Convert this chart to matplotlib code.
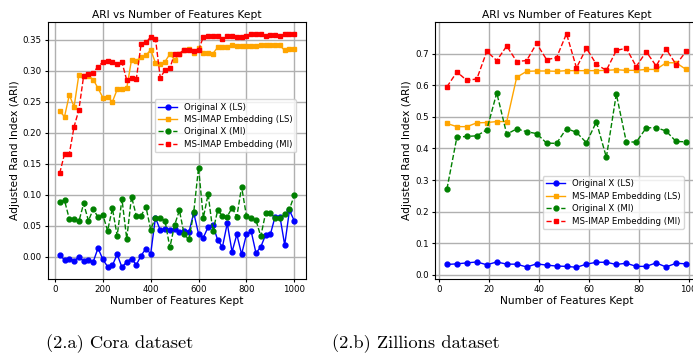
import matplotlib
matplotlib.use('Agg')
import matplotlib.pyplot as plt

# Cora dataset (left)
cora_k = list(range(20, 1001, 20))
cora_x_ls = [0.003, -0.005, -0.003, -0.007, 0.000, -0.007, -0.005, -0.008, 0.014, -0.004,
             -0.016, -0.014, 0.004, -0.017, -0.008, -0.003, -0.013, 0.002, 0.013, 0.005,
             0.063, 0.043, 0.045, 0.043, 0.045, 0.040, 0.041, 0.040, 0.071, 0.037,
             0.031, 0.048, 0.051, 0.027, 0.016, 0.054, 0.008, 0.036, 0.004, 0.036,
             0.041, 0.006, 0.016, 0.035, 0.036, 0.065, 0.065, 0.019, 0.075, 0.058]
cora_emb_ls = [0.235, 0.226, 0.261, 0.242, 0.294, 0.292, 0.292, 0.286, 0.272, 0.257,
               0.258, 0.250, 0.270, 0.270, 0.272, 0.318, 0.316, 0.323, 0.325, 0.334,
               0.313, 0.311, 0.315, 0.327, 0.318, 0.327, 0.334, 0.335, 0.329, 0.337,
               0.329, 0.329, 0.328, 0.338, 0.339, 0.338, 0.341, 0.340, 0.340, 0.340,
               0.340, 0.340, 0.342, 0.342, 0.342, 0.341, 0.341, 0.333, 0.335, 0.335]
cora_x_mi = [0.088, 0.091, 0.061, 0.061, 0.057, 0.086, 0.058, 0.077, 0.064, 0.068,
             0.042, 0.078, 0.034, 0.093, 0.029, 0.097, 0.066, 0.066, 0.081, 0.044,
             0.063, 0.063, 0.058, 0.015, 0.051, 0.075, 0.036, 0.028, 0.072, 0.144,
             0.063, 0.101, 0.041, 0.075, 0.066, 0.065, 0.079, 0.065, 0.113, 0.066,
             0.062, 0.059, 0.033, 0.070, 0.071, 0.062, 0.062, 0.069, 0.077, 0.099]
cora_emb_mi = [0.135, 0.166, 0.166, 0.210, 0.237, 0.292, 0.295, 0.297, 0.307, 0.314,
               0.316, 0.315, 0.311, 0.314, 0.285, 0.289, 0.287, 0.343, 0.347, 0.354,
               0.352, 0.289, 0.301, 0.304, 0.328, 0.328, 0.334, 0.333, 0.332, 0.333,
               0.355, 0.357, 0.356, 0.357, 0.351, 0.356, 0.357, 0.355, 0.354, 0.357,
               0.360, 0.360, 0.359, 0.357, 0.358, 0.358, 0.356, 0.359, 0.359, 0.359]

# Zillions dataset (right)
zil_k = list(range(3, 100, 4))
zil_x_ls = [0.033, 0.035, 0.038, 0.041, 0.032, 0.041, 0.034, 0.034, 0.025, 0.035,
            0.031, 0.028, 0.027, 0.024, 0.034, 0.040, 0.040, 0.033, 0.037, 0.027,
            0.027, 0.038, 0.025, 0.037, 0.035]
zil_emb_ls = [0.479, 0.469, 0.469, 0.481, 0.482, 0.485, 0.485, 0.625, 0.644, 0.645,
              0.645, 0.644, 0.646, 0.646, 0.646, 0.646, 0.647, 0.649, 0.647, 0.647,
              0.650, 0.650, 0.671, 0.671, 0.650]
zil_x_mi = [0.272, 0.436, 0.438, 0.440, 0.459, 0.576, 0.445, 0.462, 0.453, 0.447,
            0.417, 0.416, 0.463, 0.451, 0.418, 0.484, 0.372, 0.572, 0.421, 0.420,
            0.465, 0.466, 0.455, 0.422, 0.421]
zil_emb_mi = [0.595, 0.642, 0.615, 0.620, 0.707, 0.678, 0.724, 0.675, 0.678, 0.732,
              0.681, 0.687, 0.763, 0.655, 0.717, 0.666, 0.647, 0.710, 0.717, 0.659,
              0.706, 0.661, 0.715, 0.665, 0.707]

labels = ['Original X (LS)', 'MS-IMAP Embedding (LS)', 'Original X (MI)', 'MS-IMAP Embedding (MI)']
captions = ['(2.a) Cora dataset', '(2.b) Zillions dataset']

W, H = 693, 354
fig = plt.figure(figsize=(W / 100, H / 100), dpi=100)
ax1 = fig.add_axes([48 / W, 75 / H, 258 / W, 257 / H])
ax2 = fig.add_axes([435 / W, 75 / H, 263 / W, 257 / H])


def draw(ax, k, a, b, c, d, anchor):
    ax.plot(k, a, color='blue', marker='o', ms=3.5, lw=1, label=labels[0])
    ax.plot(k, b, color='orange', marker='s', ms=3.5, lw=1, label=labels[1])
    ax.plot(k, c, color='green', marker='o', ms=3.5, lw=1, ls='--', label=labels[2])
    ax.plot(k, d, color='red', marker='s', ms=3.5, lw=1, ls='--', label=labels[3])
    ax.set_title('ARI vs Number of Features Kept', fontsize=7.7, pad=3)
    ax.set_xlabel('Number of Features Kept', fontsize=7.7, labelpad=1)
    ax.set_ylabel('Adjusted Rand Index (ARI)', fontsize=7.7, labelpad=2)
    ax.tick_params(labelsize=6.2, length=2.5, pad=2)
    ax.grid(True, color='#b0b0b0', lw=1)
    ax.legend(fontsize=6.2, loc='upper right', bbox_to_anchor=anchor, borderaxespad=0,
              handlelength=2.2, labelspacing=0.4)


draw(ax1, cora_k, cora_x_ls, cora_emb_ls, cora_x_mi, cora_emb_mi, (0.961, 0.70))
draw(ax2, zil_k, zil_x_ls, zil_emb_ls, zil_x_mi, zil_emb_mi, (0.947, 0.401))

fig.text(120 / W, 6 / H, captions[0], family='cmr10', fontsize=13.3, ha='center', va='baseline')
fig.text(416 / W, 6 / H, captions[1], family='cmr10', fontsize=13.3, ha='center', va='baseline')

fig.savefig('out.png', dpi=100)
